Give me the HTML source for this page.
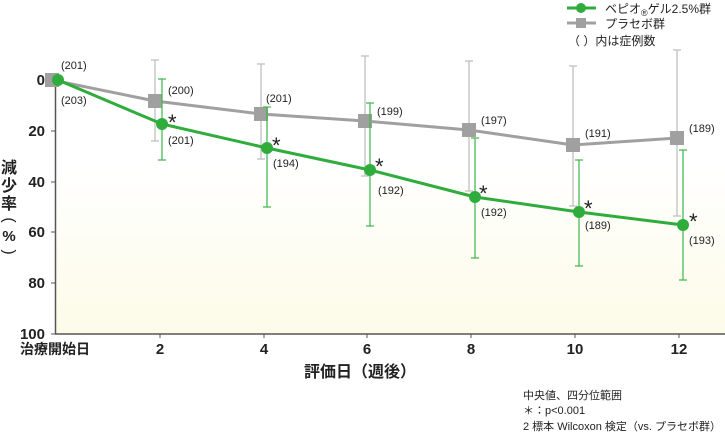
<!DOCTYPE html>
<html><head><meta charset="utf-8"><style>
body{margin:0;background:#fff}
svg{display:block;font-family:"Liberation Sans","Noto Sans CJK JP",sans-serif}
</style></head><body>
<svg width="725" height="434" viewBox="0 0 725 434">
<defs><linearGradient id="bg" x1="0" y1="0" x2="0" y2="1">
<stop offset="0" stop-color="#ffffff"/><stop offset="0.45" stop-color="#ffffff"/><stop offset="1" stop-color="#fdfbe8"/></linearGradient></defs>
<rect x="56" y="30" width="669" height="304" fill="url(#bg)"/>
<g stroke="#555" stroke-width="1.5">
<line x1="55.5" y1="74" x2="55.5" y2="334"/>
<line x1="55" y1="334" x2="725" y2="334"/>
</g>
<g stroke="#555" stroke-width="1">
<line x1="51" y1="80" x2="55" y2="80"/><line x1="51" y1="131" x2="55" y2="131"/><line x1="51" y1="182" x2="55" y2="182"/><line x1="51" y1="232" x2="55" y2="232"/><line x1="51" y1="283" x2="55" y2="283"/><line x1="51" y1="334" x2="55" y2="334"/>
<line x1="160" y1="334" x2="160" y2="338"/><line x1="264" y1="334" x2="264" y2="338"/><line x1="367" y1="334" x2="367" y2="338"/><line x1="471" y1="334" x2="471" y2="338"/><line x1="575" y1="334" x2="575" y2="338"/><line x1="679" y1="334" x2="679" y2="338"/>
</g>
<g font-size="15" fill="#222" text-anchor="end" font-weight="bold">
<text x="45" y="85">0</text><text x="45" y="136">20</text><text x="45" y="187">40</text><text x="45" y="237">60</text><text x="45" y="288">80</text><text x="45" y="339">100</text>
</g>
<g font-size="15" fill="#222" text-anchor="middle" font-weight="bold">
<text x="55" y="354" font-size="14">治療開始日</text><text x="160" y="354">2</text><text x="264" y="354">4</text><text x="367" y="354">6</text><text x="471" y="354">8</text><text x="575" y="354">10</text><text x="679" y="354">12</text>
<text x="360" y="377" font-size="16">評価日（週後）</text>
</g>
<g font-size="16" fill="#222" text-anchor="middle" font-weight="bold"><text x="9" y="173">減</text><text x="9" y="191">少</text><text x="9" y="209">率</text>
<text transform="translate(9,220) rotate(90)" dominant-baseline="central" font-weight="normal">(</text>
<text x="9" y="241" font-size="15">%</text>
<text transform="translate(9,252) rotate(90)" dominant-baseline="central" font-weight="normal">)</text></g>
<g stroke="#bbb" stroke-width="1.2">
<line x1="155" y1="60" x2="155" y2="141"/><line x1="151" y1="60" x2="159" y2="60"/><line x1="151" y1="141" x2="159" y2="141"/>
<line x1="261" y1="64" x2="261" y2="159"/><line x1="257" y1="64" x2="265" y2="64"/><line x1="257" y1="159" x2="265" y2="159"/>
<line x1="365" y1="56" x2="365" y2="176"/><line x1="361" y1="56" x2="369" y2="56"/><line x1="361" y1="176" x2="369" y2="176"/>
<line x1="469" y1="61" x2="469" y2="191"/><line x1="465" y1="61" x2="473" y2="61"/><line x1="465" y1="191" x2="473" y2="191"/>
<line x1="573" y1="66" x2="573" y2="206"/><line x1="569" y1="66" x2="577" y2="66"/><line x1="569" y1="206" x2="577" y2="206"/>
<line x1="677" y1="50" x2="677" y2="216"/><line x1="673" y1="50" x2="681" y2="50"/><line x1="673" y1="216" x2="681" y2="216"/>
</g>
<polyline points="52,80 155,101 261,114 365,121 469,130 573,145 677,138" fill="none" stroke="#a0a0a0" stroke-width="3"/>
<g fill="#a0a0a0">
<rect x="45" y="73" width="14" height="14"/><rect x="148" y="94" width="14" height="14"/><rect x="254" y="107" width="14" height="14"/><rect x="358" y="114" width="14" height="14"/><rect x="462" y="123" width="14" height="14"/><rect x="566" y="138" width="14" height="14"/><rect x="670" y="131" width="14" height="14"/>
</g>
<g stroke="#3cb54a" stroke-width="1.2">
<line x1="162" y1="79" x2="162" y2="160"/><line x1="158" y1="79" x2="166" y2="79"/><line x1="158" y1="160" x2="166" y2="160"/>
<line x1="267" y1="107" x2="267" y2="207"/><line x1="263" y1="107" x2="271" y2="107"/><line x1="263" y1="207" x2="271" y2="207"/>
<line x1="370" y1="103" x2="370" y2="226"/><line x1="366" y1="103" x2="374" y2="103"/><line x1="366" y1="226" x2="374" y2="226"/>
<line x1="475" y1="138" x2="475" y2="258"/><line x1="471" y1="138" x2="479" y2="138"/><line x1="471" y1="258" x2="479" y2="258"/>
<line x1="579" y1="160" x2="579" y2="266"/><line x1="575" y1="160" x2="583" y2="160"/><line x1="575" y1="266" x2="583" y2="266"/>
<line x1="683" y1="150" x2="683" y2="280"/><line x1="679" y1="150" x2="687" y2="150"/><line x1="679" y1="280" x2="687" y2="280"/>
</g>
<polyline points="58,80 162,124 267,148 370,170 475,197 579,212 683,225" fill="none" stroke="#2fac3c" stroke-width="3"/>
<g fill="#2fac3c">
<circle cx="58" cy="80" r="6"/><circle cx="162" cy="124" r="6"/><circle cx="267" cy="148" r="6"/><circle cx="370" cy="170" r="6"/><circle cx="475" cy="197" r="6"/><circle cx="579" cy="212" r="6"/><circle cx="683" cy="225" r="6"/>
</g>
<g font-size="22" fill="#222"><text x="168" y="130">*</text><text x="272" y="153">*</text><text x="375" y="174">*</text><text x="479" y="201">*</text><text x="584" y="216">*</text><text x="689" y="229">*</text></g>
<g font-size="11" fill="#222">
<text x="61" y="69">(201)</text><text x="61" y="104">(203)</text>
<text x="168" y="94">(200)</text><text x="168" y="144">(201)</text>
<text x="266" y="102">(201)</text><text x="273" y="167">(194)</text>
<text x="377" y="115">(199)</text><text x="378" y="194">(192)</text>
<text x="481" y="124">(197)</text><text x="481" y="216">(192)</text>
<text x="585" y="137">(191)</text><text x="585" y="229">(189)</text>
<text x="689" y="132">(189)</text><text x="689" y="244">(193)</text>
</g>
<line x1="567" y1="8" x2="596" y2="8" stroke="#2fac3c" stroke-width="3"/><circle cx="581" cy="8" r="5" fill="#2fac3c"/>
<line x1="567" y1="23" x2="596" y2="23" stroke="#a0a0a0" stroke-width="3"/><rect x="576" y="18" width="10" height="10" fill="#a0a0a0"/>
<g font-size="12" fill="#222">
<text x="605" y="13">ベピオ<tspan font-size="9" dy="3">®</tspan><tspan dy="-3">ゲル2.5%群</tspan></text>
<text x="605" y="28">プラセボ群</text>
<text x="568" y="45">（ ）内は症例数</text>
</g>
<g font-size="11" fill="#222">
<text x="523" y="399">中央値、四分位範囲</text>
<text x="523" y="414">＊：p&lt;0.001</text>
<text x="523" y="430">2 標本 Wilcoxon 検定（vs. プラセボ群）</text>
</g>
</svg>
</body></html>
